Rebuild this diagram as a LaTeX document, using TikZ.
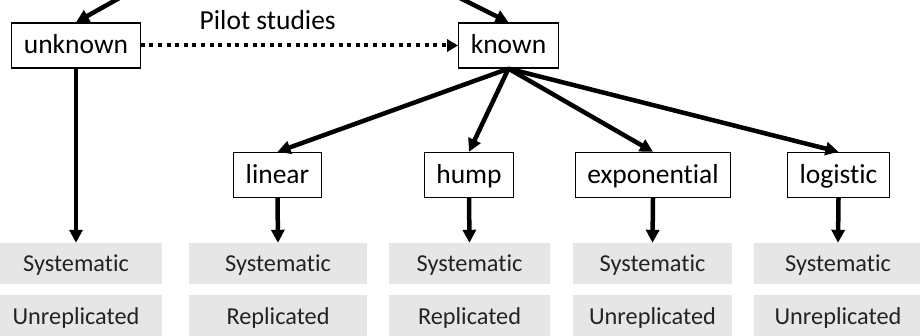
\documentclass[tikz,border=0pt]{standalone}
\usepackage{fontspec}
\setmainfont{Carlito}[Ligatures=NoCommon]
\usepackage{xcolor}
\usepackage{tikz}
\usetikzlibrary{arrows.meta,positioning,calc}

\definecolor{cellgrey}{RGB}{230,230,230}
\definecolor{celltext}{RGB}{35,35,35}

\begin{document}
\begin{tikzpicture}[auto, x=1pt, y=-1pt]
  % Define styles
  \tikzstyle{model} = [rectangle, draw, line width=1.3pt, fill=white, minimum height=45pt, text height=20pt, text depth=3pt, inner xsep=12pt, font=\fontsize{27.5}{33}\selectfont]
  \tikzstyle{design} = [rectangle, fill=cellgrey, text=celltext, minimum height=41pt, text height=17pt, text depth=0pt, inner sep=0pt, font=\fontsize{24.3}{29}\selectfont]
  \tikzstyle{arrow} = [line width=4.5pt, -{Triangle[length=13pt,width=13pt]}]
  \tikzstyle{pilot} = [line width=4pt, dash pattern=on 4pt off 4.6pt, -{Triangle[length=11pt,width=12pt]}]

  \useasboundingbox (0,0) rectangle (920,336);
  \clip (0,0) rectangle (920,336);

  % Parent above the picture (only its arrows show)
  \coordinate (root) at (280,-92);

  % Prior knowledge of the response
  \node [model] (unknown) at (76,45.5) {unknown};
  \node [model] (known) at (508.5,45.5) {known};

  % Shapes of the response
  \node [model] (linear) at (277.5,175) {linear};
  \node [model] (hump) at (469,175) {hump};
  \node [model] (exponential) at (653,175) {exponential};
  \node [model] (logistic) at (838.5,175) {logistic};

  % Designs, two rows
  \node [design, minimum width=172pt] (sysA) at (76,263.5) {Systematic};
  \node [design, minimum width=178pt] (sysB) at (278,263.5) {Systematic};
  \node [design, minimum width=161pt] (sysC) at (469.5,263.5) {Systematic};
  \node [design, minimum width=159pt] (sysD) at (652.5,263.5) {Systematic};
  \node [design, minimum width=168pt] (sysE) at (838,263.5) {Systematic};

  \node [design, minimum width=172pt] (repA) at (76,315.5) {Unreplicated};
  \node [design, minimum width=178pt] (repB) at (278,315.5) {Replicated};
  \node [design, minimum width=161pt] (repC) at (469.5,315.5) {Replicated};
  \node [design, minimum width=159pt] (repD) at (652.5,315.5) {Unreplicated};
  \node [design, minimum width=168pt] (repE) at (838,315.5) {Unreplicated};

  % Arrows
  \draw [arrow] (root) -- (unknown.north);
  \draw [arrow] (root) -- (known.north);
  \draw [pilot] (unknown.east) -- (known.west) node[pos=0.4, above=10pt, font=\fontsize{27.5}{33}\selectfont] {Pilot studies};

  \draw [arrow] (known.south) -- (linear.north);
  \draw [arrow] (known.south) -- (hump.north);
  \draw [arrow] (known.south) -- (exponential.north);
  \draw [arrow] (known.south) -- (logistic.north);

  \draw [arrow] (unknown.south) -- (sysA.north);
  \draw [arrow] (linear.south) -- (sysB.north);
  \draw [arrow] (hump.south) -- (sysC.north);
  \draw [arrow] (exponential.south) -- (sysD.north);
  \draw [arrow] (logistic.south) -- (sysE.north);

\end{tikzpicture}
\end{document}
